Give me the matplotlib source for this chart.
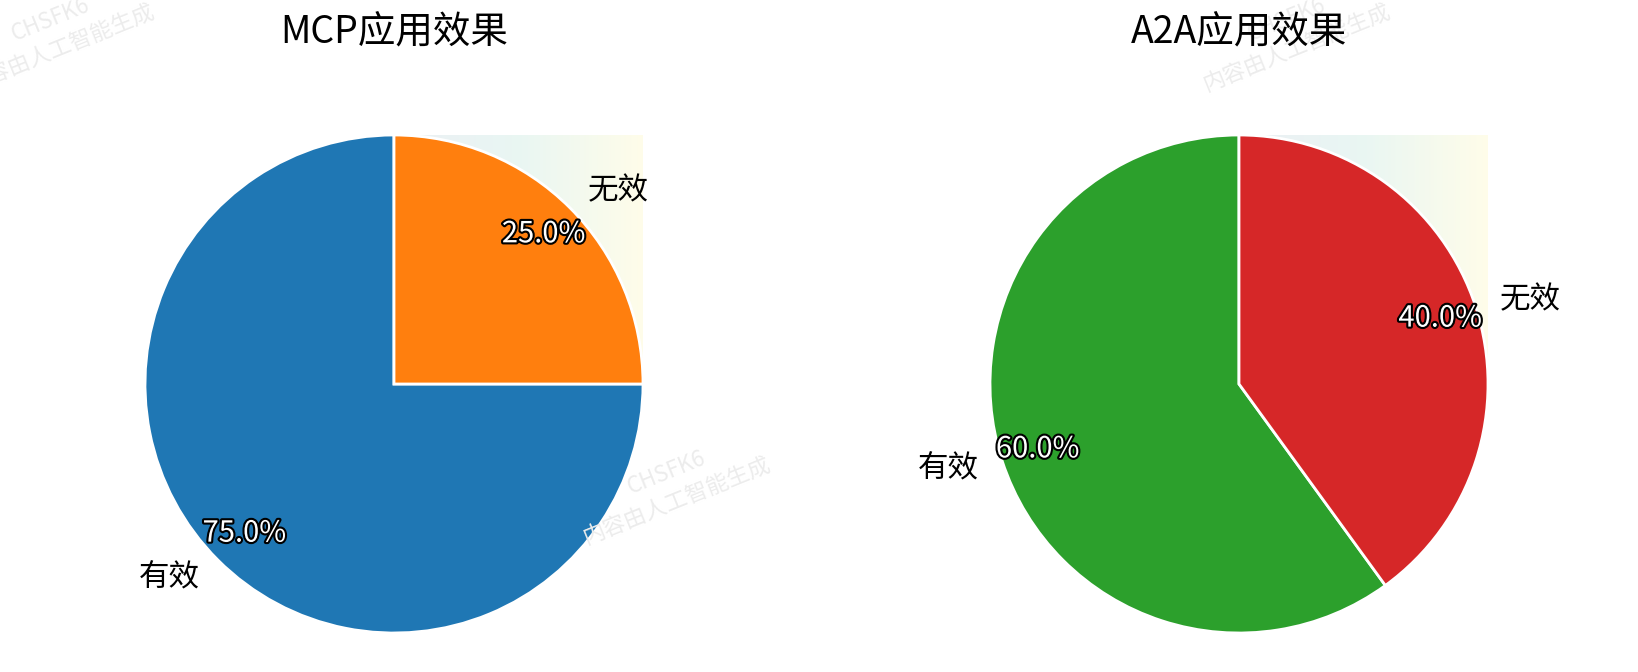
import numpy as np
import matplotlib.pyplot as plt
import matplotlib.patheffects as pe
from matplotlib.colors import LinearSegmentedColormap

plt.rcParams['font.family'] = ['Noto Sans CJK SC', 'DejaVu Sans']

# data
labels = ['有效', '无效']
mcp_vals = [75, 25]
a2a_vals = [60, 40]
titles = ['MCP应用效果', 'A2A应用效果']
mcp_colors = ['#1f77b4', '#ff7f0e']
a2a_colors = ['#2ca02c', '#d62728']

W, H = 1638, 672
fig = plt.figure(figsize=(W / 100, H / 100), dpi=100)

# watermark (drawn first, underneath everything)
for ex, ey in [(157, 17), (773, 470), (1393, 17)]:
    fig.text(ex / W, 1 - ey / H, '内容由人工智能生成', fontsize=16, color='#ececec',
             rotation=22, rotation_mode='anchor', ha='right', va='baseline',
             fontweight='light', zorder=0)
    fig.text((ex - 66) / W, 1 - (ey - 7) / H, 'CHSFK6', fontsize=16, color='#ececec',
             rotation=22, rotation_mode='anchor', ha='right', va='baseline',
             fontweight='light', zorder=0)

# faint gradient behind top-right quadrant
grad_cmap = LinearSegmentedColormap.from_list(
    'bg', [plt.cm.viridis(0.3), plt.cm.viridis(0.6), plt.cm.viridis(1.0)])
grad = np.linspace(0, 1, 256).reshape(1, -1)

R = 249
cy = 384
size = 2.5 * R
for cx, vals, cols, title in [(394, mcp_vals, mcp_colors, titles[0]),
                              (1239, a2a_vals, a2a_colors, titles[1])]:
    ax = fig.add_axes([(cx - size / 2) / W, (H - cy - size / 2) / H, size / W, size / H])
    ax.patch.set_alpha(0)
    ax.imshow(grad, extent=[0, 1, 0, 1], cmap=grad_cmap, alpha=0.1,
              aspect='auto', zorder=0)
    wedges, texts, autotexts = ax.pie(
        vals, labels=labels, colors=cols, autopct='%1.1f%%', startangle=90,
        pctdistance=0.85, labeldistance=1.1,
        wedgeprops=dict(edgecolor='white', linewidth=2),
        textprops=dict(fontsize=22))
    for t in autotexts:
        t.set_color('white')
        t.set_fontsize(21)
        t.set_path_effects([pe.withStroke(linewidth=3, foreground='black')])
    ax.set_xlim(-1.25, 1.25)
    ax.set_ylim(-1.25, 1.25)
    ax.set_aspect('equal')
    ax.axis('off')
    fig.text(cx / W, 1 - 33 / H, title, fontsize=27, ha='center', va='center', zorder=5)

fig.savefig('out.png', dpi=100)
